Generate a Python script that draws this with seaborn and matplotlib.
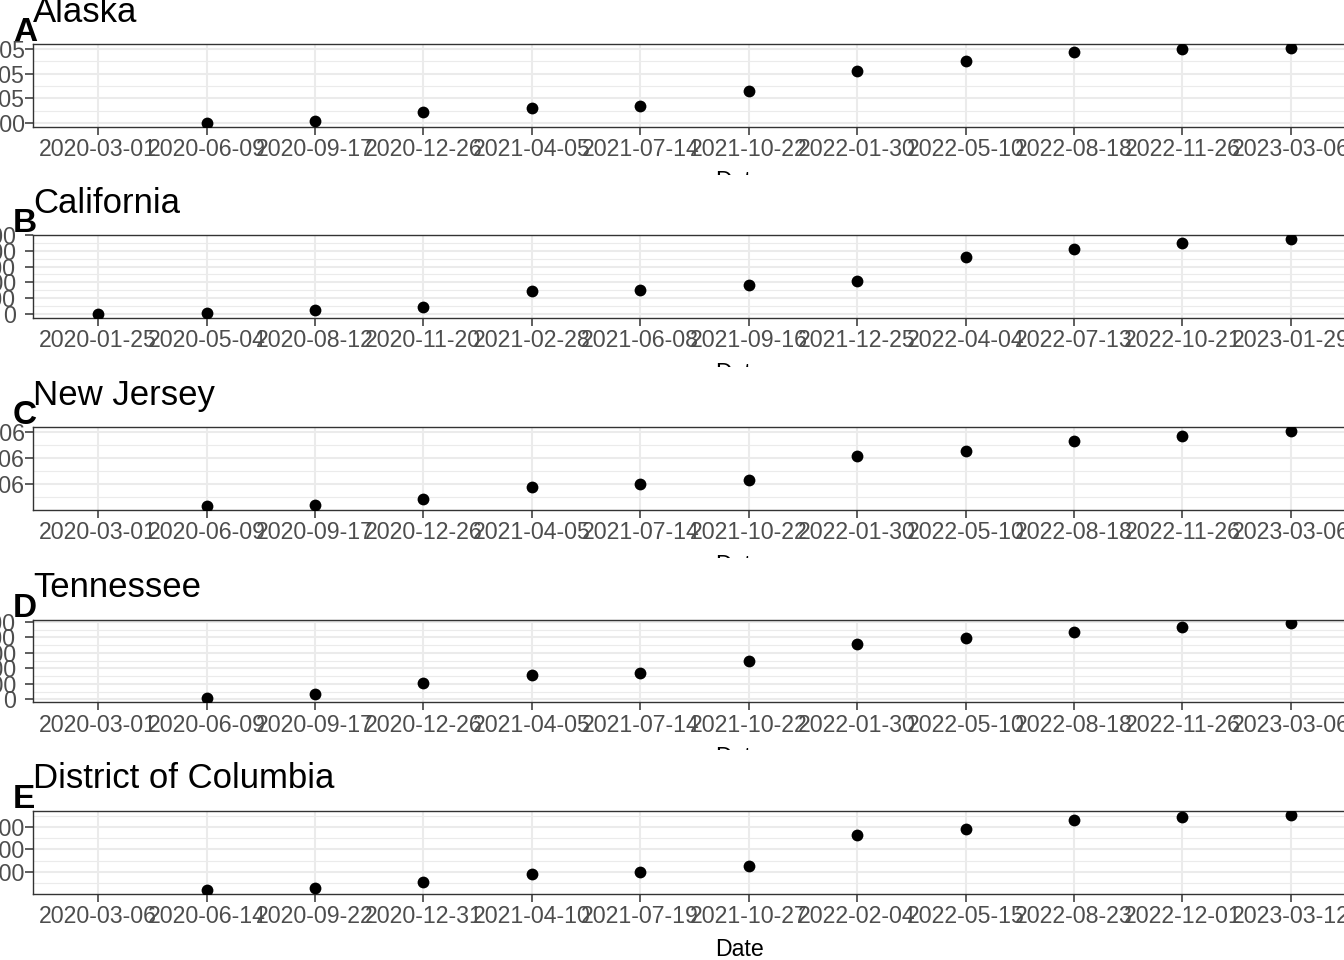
import numpy as np
import pandas as pd
import matplotlib
matplotlib.use("Agg")
import matplotlib.pyplot as plt
import seaborn as sns
from matplotlib.ticker import AutoMinorLocator
from matplotlib.transforms import Bbox, TransformedBbox

# ---- data (cumulative cases) ----
states = ["Alaska", "California", "New Jersey", "Tennessee", "District of Columbia"]
tags = ["A", "B", "C", "D", "E"]

dates_main = ["2020-03-01", "2020-06-09", "2020-09-17", "2020-12-26", "2021-04-05", "2021-07-14",
              "2021-10-22", "2022-01-30", "2022-05-10", "2022-08-18", "2022-11-26", "2023-03-06"]
dates_ca = ["2020-01-25", "2020-05-04", "2020-08-12", "2020-11-20", "2021-02-28", "2021-06-08",
            "2021-09-16", "2021-12-25", "2022-04-04", "2022-07-13", "2022-10-21", "2023-01-29"]
dates_dc = ["2020-03-06", "2020-06-14", "2020-09-22", "2020-12-31", "2021-04-10", "2021-07-19",
            "2021-10-27", "2022-02-04", "2022-05-15", "2022-08-23", "2022-12-01", "2023-03-12"]

cases_ak = [np.nan, 700, 6400, 46000, 62000, 70000, 131000, 211000, 251000, 289000, 298000, 305000]
cases_ca = [1, 55000, 580000, 1060000, 3540000, 3750000, 4600000, 5250000, 9070000, 10300000, 11320000, 11920000]
cases_nj = [np.nan, 160000, 190000, 440000, 910000, 1000000, 1170000, 2100000, 2290000, 2650000, 2850000, 3040000]
cases_tn = [np.nan, 30000, 175000, 540000, 795000, 860000, 1240000, 1800000, 1980000, 2190000, 2330000, 2450000]
cases_dc = [np.nan, 9000, 14000, 27000, 45000, 48000, 63000, 132000, 145500, 166000, 172500, 178400]

yticks_ak = [0, 100000, 200000, 300000]
ylabels_ak = ["0e+00", "1e+05", "2e+05", "3e+05"]
yticks_ca = [0, 2500000, 5000000, 7500000, 10000000, 12500000]
ylabels_ca = ["0", "2500000", "5000000", "7500000", "10000000", "12500000"]
yticks_nj = [1000000, 2000000, 3000000]
ylabels_nj = ["1e+06", "2e+06", "3e+06"]
yticks_tn = [0, 500000, 1000000, 1500000, 2000000, 2500000]
ylabels_tn = ["0", "500000", "1000000", "1500000", "2000000", "2500000"]
yticks_dc = [50000, 100000, 150000]
ylabels_dc = ["50000", "100000", "150000"]

all_dates = [dates_main, dates_ca, dates_main, dates_main, dates_dc]
all_cases = [cases_ak, cases_ca, cases_nj, cases_tn, cases_dc]
all_yticks = [yticks_ak, yticks_ca, yticks_nj, yticks_tn, yticks_dc]
all_ylabels = [ylabels_ak, ylabels_ca, ylabels_nj, ylabels_tn, ylabels_dc]

# ---- layout (pixels) ----
W, H = 1344, 960
panel_top = [44, 235, 427.3, 619.7, 811]
panel_h = 82.5
clip_bottom = [175, 366.7, 558.4, 750.1, 960]
ylab_pad = [0.5, 6.5, 0.5, 6.5, 0.5]
px = 0.72  # points per pixel at dpi 100

sns.set_style("whitegrid")
plt.rcParams['font.family'] = ['Liberation Sans', 'DejaVu Sans']

fig = plt.figure(figsize=(W / 100, H / 100), dpi=100)

for i in range(5):
    top = panel_top[i]
    ax = fig.add_axes([33 / W, 1 - (top + panel_h) / H, 1323 / W, panel_h / H])
    df = pd.DataFrame({"Date": all_dates[i], "Cases": all_cases[i]})
    sns.stripplot(data=df, x="Date", y="Cases", order=all_dates[i], jitter=False,
                  color="black", size=8.5, linewidth=0, ax=ax, zorder=3)
    ax.set_xlim(-0.6, len(all_dates[i]) - 1 + 0.6)

    lo, hi = ax.get_ylim()
    ax.set_yticks(all_yticks[i])
    ax.set_yticklabels(all_ylabels[i])
    ax.set_ylim(lo, hi)
    ax.yaxis.set_minor_locator(AutoMinorLocator(2))

    ax.grid(True, which="major", color="#EBEBEB", lw=1.5)
    ax.grid(True, which="minor", axis="y", color="#EBEBEB", lw=0.8)
    ax.xaxis.grid(True, which="major", color="#EBEBEB", lw=1.5)
    ax.set_axisbelow(True)
    ax.set_facecolor("white")
    for s in ax.spines.values():
        s.set_visible(True)
        s.set_color("#333333")
        s.set_linewidth(1.0)

    ax.tick_params(axis="x", which="major", labelsize=16.7, labelcolor="#4D4D4D",
                   length=5.5, width=1.1, color="#333333", pad=2.9, bottom=True)
    ax.tick_params(axis="y", which="major", labelsize=16.7, labelcolor="#4D4D4D",
                   length=5.5, width=1.1, color="#333333", pad=ylab_pad[i], left=True)
    ax.tick_params(which="minor", length=0)

    ax.set_ylabel("")
    ax.set_xlabel("Date", fontsize=16.7, color="black")
    ax.xaxis.label.set_verticalalignment("baseline")
    ax.xaxis.set_label_coords(0.534, -62 / panel_h)
    clip = TransformedBbox(Bbox.from_extents(0, 1 - clip_bottom[i] / H, 1, 1), fig.transFigure)
    ax.xaxis.label.set_clip_box(clip)
    ax.xaxis.label.set_clip_on(True)

    ax.annotate(states[i], xy=(0, 1), xycoords="axes fraction",
                xytext=(0, 22.5 * px), textcoords="offset points",
                fontsize=25, ha="left", va="baseline", color="black")
    ax.annotate(tags[i], xy=(0, 1), xycoords="axes fraction",
                xytext=(-20 * px, 3 * px), textcoords="offset points",
                fontsize=24, fontweight="bold", ha="left", va="baseline", color="black")

fig.savefig("out.png", dpi=100, facecolor="white")
